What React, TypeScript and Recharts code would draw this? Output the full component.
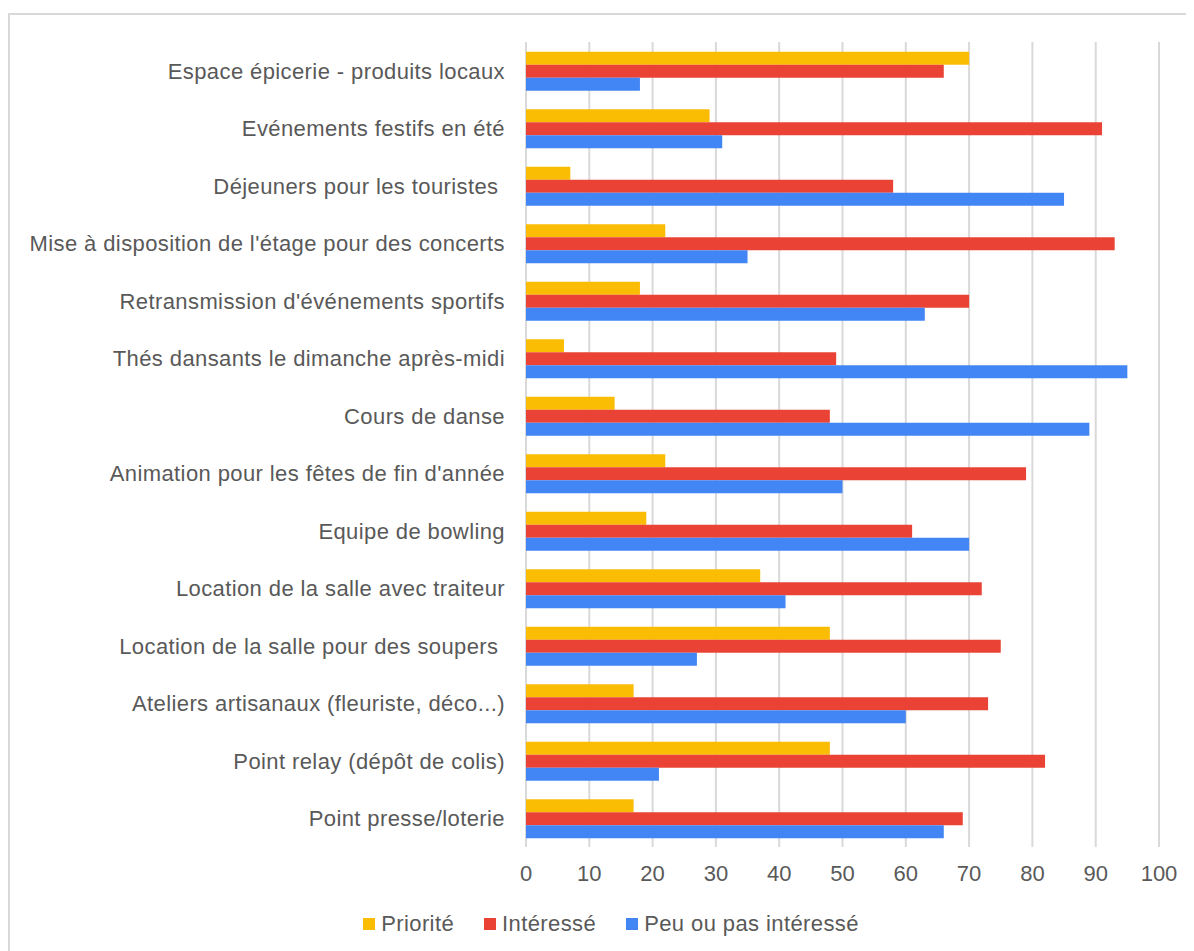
import { Bar, BarChart, CartesianGrid, Legend, XAxis, YAxis } from "recharts";

const categories = [
  "Espace épicerie - produits locaux",
  "Evénements festifs en été",
  "Déjeuners pour les touristes\u00A0",
  "Mise à disposition de l'étage pour des concerts",
  "Retransmission d'événements sportifs",
  "Thés dansants le dimanche après-midi",
  "Cours de danse",
  "Animation pour les fêtes de fin d'année",
  "Equipe de bowling",
  "Location de la salle avec traiteur",
  "Location de la salle pour des soupers\u00A0",
  "Ateliers artisanaux (fleuriste, déco...)",
  "Point relay (dépôt de colis)",
  "Point presse/loterie",
];

const seriesNames = ["Priorité", "Intéressé", "Peu ou pas intéressé"];
const priorite = [70, 29, 7, 22, 18, 6, 14, 22, 19, 37, 48, 17, 48, 17];
const interesse = [66, 91, 58, 93, 70, 49, 48, 79, 61, 72, 75, 73, 82, 69];
const peuInteresse = [18, 31, 85, 35, 63, 95, 89, 50, 70, 41, 27, 60, 21, 66];

const xTicks = [0, 10, 20, 30, 40, 50, 60, 70, 80, 90, 100];

const data = categories.map((name, i) => ({
  name,
  priorite: priorite[i],
  interesse: interesse[i],
  peu: peuInteresse[i],
}));

const FONT = "Arial, 'Liberation Sans', sans-serif";
const TEXT = "#595959";

function LegendContent({ payload }: any) {
  const items = [...(payload ?? [])].sort(
    (a: any, b: any) => seriesNames.indexOf(a.value) - seriesNames.indexOf(b.value)
  );
  return (
    <div
      style={{
        display: "flex",
        justifyContent: "center",
        alignItems: "center",
        height: 30,
        paddingLeft: 53,
        boxSizing: "border-box",
        fontFamily: FONT,
        fontSize: 22,
        letterSpacing: 0.4,
        color: TEXT,
      }}
    >
      {items.map((item: any, i: number) => (
        <div
          key={item.value}
          style={{ display: "flex", alignItems: "center", marginRight: i < items.length - 1 ? 30 : 0 }}
        >
          <span style={{ width: 12, height: 12, background: item.color, marginRight: 6, display: "inline-block" }} />
          <span>{item.value}</span>
        </div>
      ))}
    </div>
  );
}

export default function App() {
  return (
    <div style={{ paddingTop: 5 }}>
      <div
        style={{
          borderTop: "2px solid #d9d9d9",
          borderLeft: "2px solid #d9d9d9",
          width: 1184,
          height: 940,
          background: "#fff",
        }}
      >
        <BarChart
          width={1184}
          height={930}
          data={data}
          layout="vertical"
          margin={{ top: 27, right: 35, bottom: 6, left: 0 }}
          barCategoryGap="17%"
          barGap={0}
        >
          <CartesianGrid horizontal={false} stroke="#d9d9d9" strokeWidth={2} />
          <XAxis
            type="number"
            domain={[0, 100]}
            ticks={xTicks}
            axisLine={false}
            tickLine={false}
            tickSize={6}
            tickMargin={12}
            height={62}
            tick={{ fill: TEXT, fontSize: 22, fontFamily: FONT }}
          />
          <YAxis
            type="category"
            dataKey="name"
            width={516}
            axisLine={false}
            tickLine={false}
            tickSize={6}
            tickMargin={15}
            interval={0}
            tick={{ fill: TEXT, fontSize: 22, fontFamily: FONT, letterSpacing: 0.4 }}
          />
          <Legend verticalAlign="bottom" content={<LegendContent />} />
          <Bar dataKey="priorite" name={seriesNames[0]} fill="#fbbc04" isAnimationActive={false} />
          <Bar dataKey="interesse" name={seriesNames[1]} fill="#ea4335" isAnimationActive={false} />
          <Bar dataKey="peu" name={seriesNames[2]} fill="#4285f4" isAnimationActive={false} />
        </BarChart>
      </div>
    </div>
  );
}
